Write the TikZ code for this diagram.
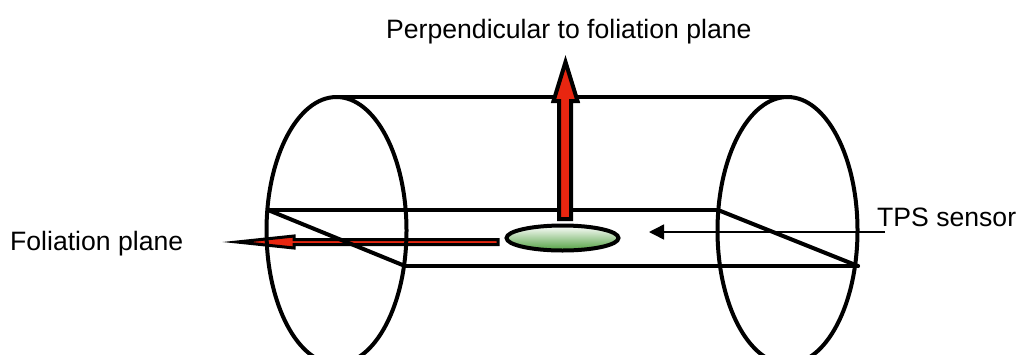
\documentclass[tikz,border=0pt]{standalone}
\usepackage{fontspec}
\setmainfont{Liberation Sans}
\usetikzlibrary{arrows.meta,shapes.geometric}
\definecolor{arrowred}{RGB}{232,38,16}
\definecolor{sensorgreen}{RGB}{80,160,64}
\tikzset{
  endcap/.style={draw=black, ellipse, line width=4pt, minimum width=140pt, minimum height=267pt, inner sep=0pt, outer sep=0pt},
  sensordisk/.style={draw=black, ellipse, line width=4pt, minimum width=112pt, minimum height=25pt, inner sep=0pt, outer sep=0pt,
    top color=white, bottom color=sensorgreen},
  bodyline/.style={line width=4pt, line cap=round},
  vecup/.style={draw=black, fill=arrowred, line width=4pt, miter limit=20},
  vecleft/.style={draw=black, fill=arrowred, line width=3pt, miter limit=20},
  pointer/.style={-{Triangle[length=15pt,width=15pt]}, line width=1.5pt},
  lbl/.style={font=\fontsize{26.6}{30}\selectfont, anchor=base west, inner sep=0pt}
}
\begin{document}
\begin{tikzpicture}[x=1pt,y=-1pt]
  \clip (0,0) rectangle (1016,354);
  \fill[white] (0,0) rectangle (1016,354);

  % vector in the plane goes behind the cylinder
  \draw[vecleft] (498,239.5) -- (294,239.5) -- (294,236) -- (237,242) -- (294,248) -- (294,244.5) -- (498,244.5) -- cycle;

  % cylinder
  \node[endcap] (leftend) at (336.5,230.5) {};
  \node[endcap] (rightend) at (787.5,230.5) {};
  \coordinate (pbl) at (268,210);
  \coordinate (pbr) at (718,210);
  \coordinate (pfl) at (405,266);
  \coordinate (pfr) at (858,266);
  \draw[bodyline] (leftend.north) -- (rightend.north);
  \draw[bodyline] (pbl) -- (pbr);
  \draw[bodyline] (pfl) -- (pfr);
  \draw[bodyline] (pbl) -- (pfl);
  \draw[bodyline] (pbr) -- (pfr);

  % sensor and its normal
  \node[sensordisk] (sensor) at (562.5,238) {};
  \draw[vecup] (559,219) -- (559,101) -- (553.5,101) -- (565.5,62) -- (577.5,101) -- (571,101) -- (571,219) -- cycle;

  \node[lbl] (perp) at (386,38) {Perpendicular to foliation plane};
  \node[lbl] (foli) at (10,250) {Foliation plane};
  \node[lbl] (tps) at (877,226) {TPS sensor};
  \coordinate (tpsend) at (885,232);
  \coordinate (tpstip) at (649,232);
  \draw[pointer] (tpsend) -- (tpstip);
\end{tikzpicture}
\end{document}
